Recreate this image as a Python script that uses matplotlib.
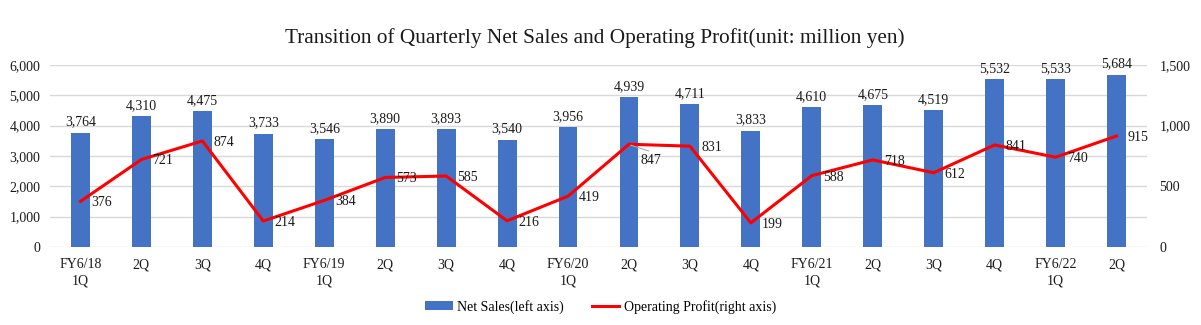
import numpy as np
import matplotlib
matplotlib.use("Agg")
import matplotlib.pyplot as plt
from matplotlib.ticker import FuncFormatter

plt.rcParams["font.family"] = ["Liberation Serif", "DejaVu Serif"]

quarters = ["FY6/18\n1Q", "2Q", "3Q", "4Q", "FY6/19\n1Q", "2Q", "3Q", "4Q",
            "FY6/20\n1Q", "2Q", "3Q", "4Q", "FY6/21\n1Q", "2Q", "3Q", "4Q",
            "FY6/22\n1Q", "2Q"]
net_sales = [3764, 4310, 4475, 3733, 3546, 3890, 3893, 3540, 3956,
             4939, 4711, 3833, 4610, 4675, 4519, 5532, 5533, 5684]
op_profit = [376, 721, 874, 214, 384, 573, 585, 216, 419,
             847, 831, 199, 588, 718, 612, 841, 740, 915]

BLUE = "#4472C4"
RED = "#FF0000"
TXT = "#1a1a1a"

fig = plt.figure(figsize=(12.01, 3.25), dpi=100)
ax = fig.add_axes([50 / 1201, 1 - 247 / 325, 1097 / 1201, 182 / 325])
ax2 = ax.twinx()

x = np.arange(len(quarters))
bars = ax.bar(x, net_sales, width=0.31, color=BLUE, zorder=2,
              label="Net Sales(left axis)")
ax.set_ylim(0, 6000)
ax.set_xlim(-0.5, len(quarters) - 0.5)
ax.set_yticks(np.arange(0, 6001, 1000))
ax.yaxis.set_major_formatter(FuncFormatter(lambda v, p: f"{v:,.0f}"))
ax.grid(axis="y", color="#D9D9D9", lw=1, zorder=0)
ax.set_axisbelow(True)
ax.set_xticks(x)
ax.set_xticklabels(quarters, fontsize=10, color=TXT, linespacing=1.3)
ax.tick_params(axis="both", length=0, labelsize=10, labelcolor=TXT)
ax.tick_params(axis="y", pad=7)
ax.tick_params(axis="x", pad=8)
for s in ax.spines.values():
    s.set_visible(False)
for xi, v in zip(x, net_sales):
    ax.annotate(f"{v:,}", (xi, v), xytext=(0, 3), textcoords="offset points",
                ha="center", va="bottom", fontsize=10, color=TXT)

ln, = ax2.plot(x, op_profit, color=RED, lw=2.2, zorder=3,
               label="Operating Profit(right axis)")
ax2.set_ylim(0, 1500)
ax2.set_yticks([0, 500, 1000, 1500])
ax2.yaxis.set_major_formatter(FuncFormatter(lambda v, p: f"{v:,.0f}"))
ax2.tick_params(axis="y", length=0, labelsize=10, labelcolor=TXT, pad=9)
for s in ax2.spines.values():
    s.set_visible(False)
for xi, v in zip(x, op_profit):
    dy = -1
    if v == 847:
        dy = -12
        ax2.plot([xi + 0.03, xi + 0.32], [v - 8, v - 55], color="#A6A6A6", lw=0.8, zorder=4)
    ax2.annotate(f"{v:,}", (xi, v), xytext=(8, dy), textcoords="offset points",
                 ha="left", va="center", fontsize=10, color=TXT, zorder=5)

fig.text(0.495, 0.883, "Transition of Quarterly Net Sales and Operating Profit(unit: million yen)",
         ha="center", va="center", fontsize=15.3, color=TXT)

fig.legend([bars, ln], ["Net Sales(left axis)", "Operating Profit(right axis)"],
           loc="center", bbox_to_anchor=(0.5, 1 - 307 / 325), ncol=2, frameon=False,
           fontsize=10, handlelength=2.0, handleheight=0.6, columnspacing=2.0,
           handletextpad=0.3)

fig.savefig("out.png", dpi=100)
